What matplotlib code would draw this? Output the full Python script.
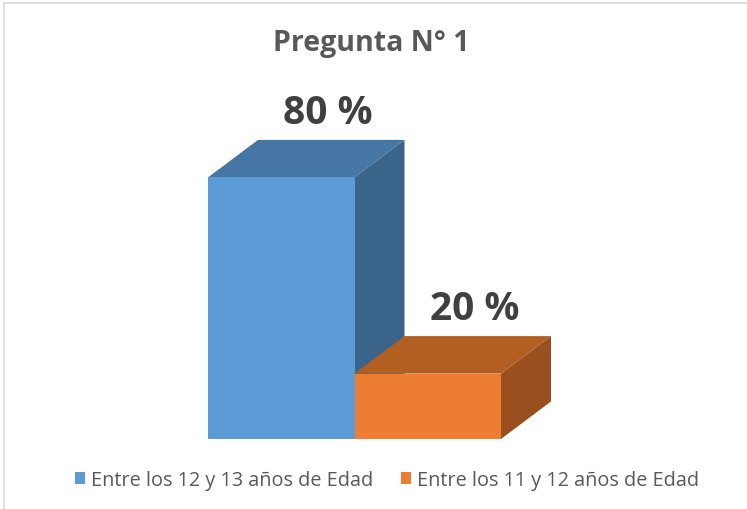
import matplotlib.pyplot as plt
from matplotlib.patches import Rectangle, Polygon, Patch
from matplotlib.lines import Line2D

# datos
categorias = ["Entre los 12 y 13 años de Edad", "Entre los 11 y 12 años de Edad"]
valores = [80, 20]
etiquetas = ["80 %", "20 %"]
titulo = "Pregunta N° 1"

# colores (frente, arriba, lado)
frente = ["#5B9BD5", "#ED7D31"]
arriba = ["#4676A3", "#B45F22"]
lado = ["#3A6489", "#9A4F1E"]

plt.rcParams['font.family'] = ['Open Sans', 'DejaVu Sans']

fig = plt.figure(figsize=(7.47, 5.10), dpi=100)
ax = fig.add_axes([0, 70 / 510, 1, 327 / 510])
ax.set_xlim(-0.5 - 208 / 146.5, 1.5 + 246 / 146.5)
ax.set_ylim(0, 100)
ax.axis("off")

dx = 50 / 146.5   # profundidad en x (unidades de categoria)
dy = 37.5 / 3.27  # profundidad en y (unidades de valor)

for i, v in enumerate(valores):
    x0, x1 = i - 0.5, i + 0.5
    ax.add_patch(Polygon([(x1, 0), (x1 + dx, dy), (x1 + dx, v + dy), (x1, v)],
                         closed=True, facecolor=lado[i], edgecolor="none", clip_on=False))
    ax.add_patch(Polygon([(x0, v), (x1, v), (x1 + dx, v + dy), (x0 + dx, v + dy)],
                         closed=True, facecolor=arriba[i], edgecolor="none", clip_on=False))
    ax.add_patch(Rectangle((x0, 0), 1, v, facecolor=frente[i], edgecolor="none", clip_on=False))
    ax.text(i + 0.32, v + dy + 8.3, etiquetas[i], ha="center", va="center",
            fontsize=28, fontweight="bold", color="#404040")

fig.text(371 / 747, 1 - 43 / 510, titulo, ha="center", va="center",
         fontsize=20.5, fontweight="bold", color="#595959")

handles = [Patch(facecolor=c, edgecolor="none") for c in frente]
fig.legend(handles, categorias, loc="center", bbox_to_anchor=(387 / 747, 1 - 481 / 510),
           ncol=2, frameon=False, fontsize=14.3, labelcolor="#595959",
           handlelength=0.5, handleheight=0.5, handletextpad=0.3, columnspacing=1.4)

# borde del grafico
fig.add_artist(Line2D([4 / 747, 4 / 747], [0, 1 - 4 / 510], transform=fig.transFigure,
                      color="#D9D9D9", linewidth=1.2))
fig.add_artist(Line2D([4 / 747, 1], [1 - 4 / 510, 1 - 4 / 510], transform=fig.transFigure,
                      color="#D9D9D9", linewidth=1.2))

fig.savefig("out.png", dpi=100, facecolor="white")
